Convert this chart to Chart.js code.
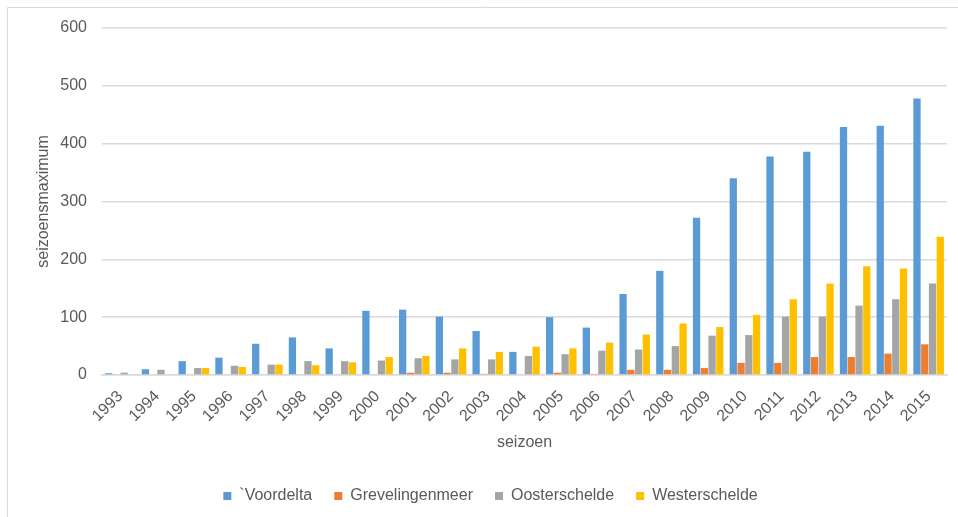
<!DOCTYPE html>
<html>
<head>
<meta charset="utf-8">
<script src="https://cdn.jsdelivr.net/npm/chart.js@4"></script>
<style>
html,body{margin:0;padding:0;background:#fff;}
#wrap{width:958px;height:517px;position:relative;}
</style>
</head>
<body>
<div id="wrap"><canvas id="c" width="958" height="517"></canvas></div>
<script>
const seasons = ['1993','1994','1995','1996','1997','1998','1999','2000','2001','2002','2003','2004','2005','2006','2007','2008','2009','2010','2011','2012','2013','2014','2015'];
const voordelta      = [3, 10, 24, 30, 54, 65, 46, 111, 113, 101, 76, 40, 100, 82, 140, 180, 272, 340, 378, 386, 429, 431, 478];
const grevelingenmeer= [0, 0, 0, 0, 0, 0, 0, 0, 4, 4, 2, 0, 4, 2, 9, 9, 12, 21, 21, 31, 31, 37, 53];
const oosterschelde  = [4, 9, 12, 16, 18, 24, 24, 25, 29, 27, 27, 33, 36, 42, 44, 50, 68, 69, 101, 101, 120, 131, 158];
const westerschelde  = [0, 0, 12, 14, 18, 17, 22, 31, 33, 46, 40, 49, 46, 56, 70, 89, 83, 104, 131, 158, 188, 184, 239];
const seriesNames = ['`Voordelta', 'Grevelingenmeer', 'Oosterschelde', 'Westerschelde'];
const seriesColors = ['#5B9BD5', '#ED7D31', '#A5A5A5', '#FFC000'];
const yTicks = [0, 100, 200, 300, 400, 500, 600];

const FONT = "'Liberation Sans', Arial, sans-serif";
const TXT = '#595959';

const frame = {
  id: 'frame',
  beforeDraw(chart) {
    const ctx = chart.ctx;
    ctx.save();
    ctx.fillStyle = '#fff';
    ctx.fillRect(0, 0, chart.width, chart.height);
    ctx.strokeStyle = '#d9d9d9';
    ctx.lineWidth = 1;
    ctx.beginPath();
    ctx.moveTo(7.5, chart.height + 5);
    ctx.lineTo(7.5, 7.5);
    ctx.lineTo(chart.width + 5, 7.5);
    ctx.stroke();
    ctx.restore();
  }
};

const allSeries = [voordelta, grevelingenmeer, oosterschelde, westerschelde];

new Chart(document.getElementById('c'), {
  type: 'bar',
  data: {
    labels: seasons,
    datasets: allSeries.map((d, i) => ({
      label: seriesNames[i],
      data: d,
      backgroundColor: seriesColors[i],
      borderWidth: 0,
      barPercentage: 0.94,
      categoryPercentage: 0.845
    }))
  },
  options: {
    responsive: false,
    animation: false,
    layout: { padding: { left: 34, right: 11, top: 28, bottom: 3 } },
    plugins: {
      tooltip: { enabled: false },
      legend: {
        position: 'bottom',
        labels: {
          boxWidth: 8, boxHeight: 8, padding: 22,
          color: TXT,
          font: { family: FONT, size: 16 }
        }
      }
    },
    scales: {
      x: {
        grid: { display: false, drawTicks: false },
        border: { display: true, color: '#d9d9d9', width: 1.5 },
        ticks: {
          color: TXT, font: { family: FONT, size: 16 },
          minRotation: 45, maxRotation: 45, padding: 12, autoSkip: false
        },
        title: {
          display: true, text: 'seizoen', color: TXT,
          font: { family: FONT, size: 16 }, padding: { top: 0, bottom: 14 }
        },
        afterFit(scale) { scale.height = 91; }
      },
      y: {
        min: 0, max: 600,
        afterBuildTicks(scale) { scale.ticks = yTicks.map(v => ({ value: v })); },
        grid: { color: '#d9d9d9', lineWidth: 1.5, drawTicks: false },
        border: { display: false },
        ticks: { color: TXT, font: { family: FONT, size: 16 }, padding: 15 },
        title: {
          display: true, text: 'seizoensmaximum', color: TXT,
          font: { family: FONT, size: 16 }, padding: { top: 0, bottom: 0 }
        },
        afterFit(scale) { scale.width = 68; }
      }
    }
  },
  plugins: [frame]
});
</script>
</body>
</html>
